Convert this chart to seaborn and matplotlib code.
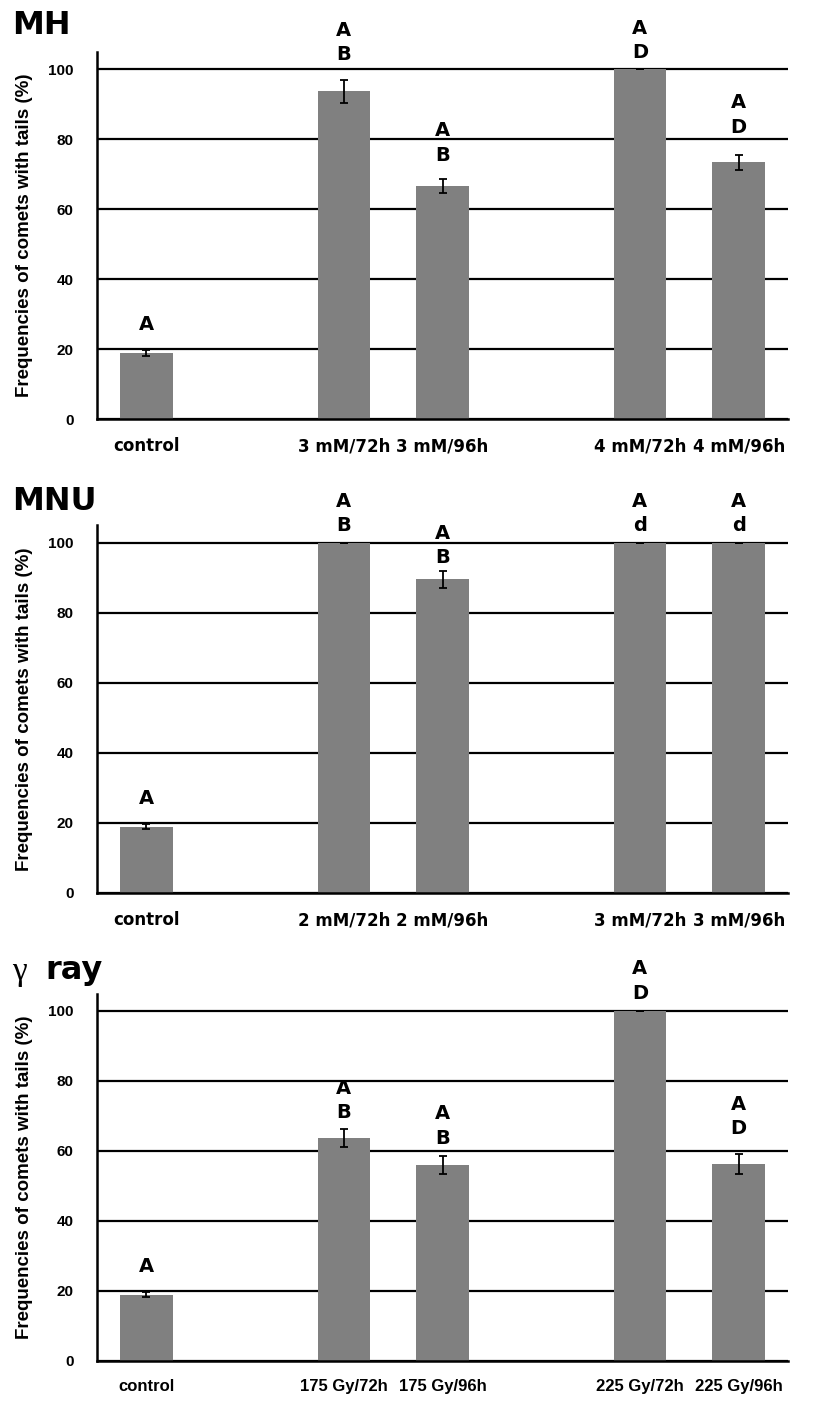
import matplotlib
matplotlib.use("Agg")
import matplotlib.pyplot as plt
import numpy as np
import pandas as pd
import seaborn as sns

# slots on the x axis, blanks keep the gaps between dose groups
mh_order = ['control', ' ', '3 mM/72h', '3 mM/96h', '  ', '4 mM/72h', '4 mM/96h']
mh_cats = ['control', '3 mM/72h', '3 mM/96h', '4 mM/72h', '4 mM/96h']
mh_vals = [19.0, 93.7, 66.7, 100.0, 73.4]
mh_errs = [0.8, 3.2, 2.0, 0.0, 2.2]
mh_letters = ['A', 'AB', 'AB', 'AD', 'AD']
mh_letter_y = [27.0, 104.1, 75.5, 104.9, 83.5]

mnu_order = ['control', ' ', '2 mM/72h', '2 mM/96h', '  ', '3 mM/72h', '3 mM/96h']
mnu_cats = ['control', '2 mM/72h', '2 mM/96h', '3 mM/72h', '3 mM/96h']
mnu_vals = [19.0, 100.0, 89.6, 100.0, 100.0]
mnu_errs = [0.8, 0.0, 2.5, 0.0, 0.0]
mnu_letters = ['A', 'AB', 'AB', 'Ad', 'Ad']
mnu_letter_y = [27.0, 104.9, 95.9, 104.9, 104.9]

gam_order = ['control', ' ', '175 Gy/72h', '175 Gy/96h', '  ', '225 Gy/72h', '225 Gy/96h']
gam_cats = ['control', '175 Gy/72h', '175 Gy/96h', '225 Gy/72h', '225 Gy/96h']
gam_vals = [19.0, 63.7, 56.0, 100.0, 56.3]
gam_errs = [0.8, 2.6, 2.7, 0.0, 2.9]
gam_letters = ['A', 'AB', 'AB', 'AD', 'AD']
gam_letter_y = [27.0, 70.9, 63.7, 105.1, 66.3]

yticks = [0, 20, 40, 60, 80, 100]
ylab = 'Frequencies of comets with tails (%)'


def draw_panel(ax, order, cats, vals, errs, letters, letter_y, tick_font, tick_size):
    df = pd.DataFrame({'cat': cats, 'val': vals})
    sns.barplot(data=df, x='cat', y='val', order=order, color='#808080',
                saturation=1, width=0.53, errorbar=None, ax=ax, zorder=2, linewidth=0)
    xpos = [order.index(c) for c in cats]
    ax.errorbar(xpos, vals, yerr=errs, fmt='none', ecolor='black',
                elinewidth=1.3, capsize=3, capthick=1.3, zorder=3)

    for x, let, ly in zip(xpos, letters, letter_y):
        ax.text(x, ly, let[-1], ha='center', va='center', fontsize=14,
                fontweight='bold', family='DejaVu Sans', clip_on=False)
        if len(let) > 1:
            ax.text(x, ly + 6.9, let[0], ha='center', va='center', fontsize=14,
                    fontweight='bold', family='DejaVu Sans', clip_on=False)

    ax.set_xlim(-0.5, 6.5)
    ax.set_ylim(0, 105)
    ax.set_xticks(np.arange(-0.5, 7.0, 1.0))
    ax.set_xticklabels([])
    ax.set_xticks(xpos, minor=True)
    ax.set_xticklabels(cats, minor=True)
    ax.tick_params(axis='x', which='major', direction='out', length=5, width=1.5)
    ax.tick_params(axis='x', which='minor', length=0, pad=13, labelsize=tick_size)
    for lbl in ax.get_xticklabels(minor=True):
        lbl.set_fontweight('bold')
        lbl.set_family(tick_font)

    ax.set_yticks(yticks)
    ax.tick_params(axis='y', direction='out', length=5, width=1.5, pad=12, labelsize=11)
    for lbl in ax.get_yticklabels():
        lbl.set_fontweight('bold')
        lbl.set_family('Liberation Sans')

    ax.yaxis.grid(True, color='black', linewidth=1.6)
    ax.xaxis.grid(False)
    ax.set_axisbelow(True)
    for s in ['top', 'right']:
        ax.spines[s].set_visible(False)
    for s in ['left', 'bottom']:
        ax.spines[s].set_color('black')
        ax.spines[s].set_linewidth(1.8)
    ax.set_xlabel('')
    ax.set_ylabel(ylab, fontsize=13.5, fontweight='bold', family='Liberation Sans')


sns.set_style('white')
plt.rcParams['font.family'] = ['DejaVu Sans']
plt.rcParams['text.color'] = 'black'
plt.rcParams['axes.labelcolor'] = 'black'
plt.rcParams['xtick.color'] = 'black'
plt.rcParams['ytick.color'] = 'black'

W, H = 835, 1403
fig = plt.figure(figsize=(W / 100, H / 100), dpi=100)

left = 97 / W
width = 691 / W
height = 367.5 / H
axes = []
for zero_px in [419.3, 893.0, 1361.0]:
    axes.append(fig.add_axes([left, (H - zero_px) / H, width, height]))

draw_panel(axes[0], mh_order, mh_cats, mh_vals, mh_errs, mh_letters, mh_letter_y, 'DejaVu Sans', 12)
draw_panel(axes[1], mnu_order, mnu_cats, mnu_vals, mnu_errs, mnu_letters, mnu_letter_y, 'DejaVu Sans', 12)
draw_panel(axes[2], gam_order, gam_cats, gam_vals, gam_errs, gam_letters, gam_letter_y, 'Liberation Sans', 12)

for ax in axes:
    ax.yaxis.set_label_coords(-0.093, 0.5)

# panel titles
fig.text(12 / W, 1 - 25 / H, 'MH', fontsize=23, fontweight='bold', va='center', ha='left')
fig.text(12 / W, 1 - 502 / H, 'MNU', fontsize=23, fontweight='bold', va='center', ha='left')
fig.text(12 / W, 1 - 972 / H, '\u03b3', fontsize=24, family='Liberation Serif', va='center', ha='left')
fig.text(45 / W, 1 - 970 / H, 'ray', fontsize=23, fontweight='bold', va='center', ha='left')

fig.savefig('out.png', dpi=100)
